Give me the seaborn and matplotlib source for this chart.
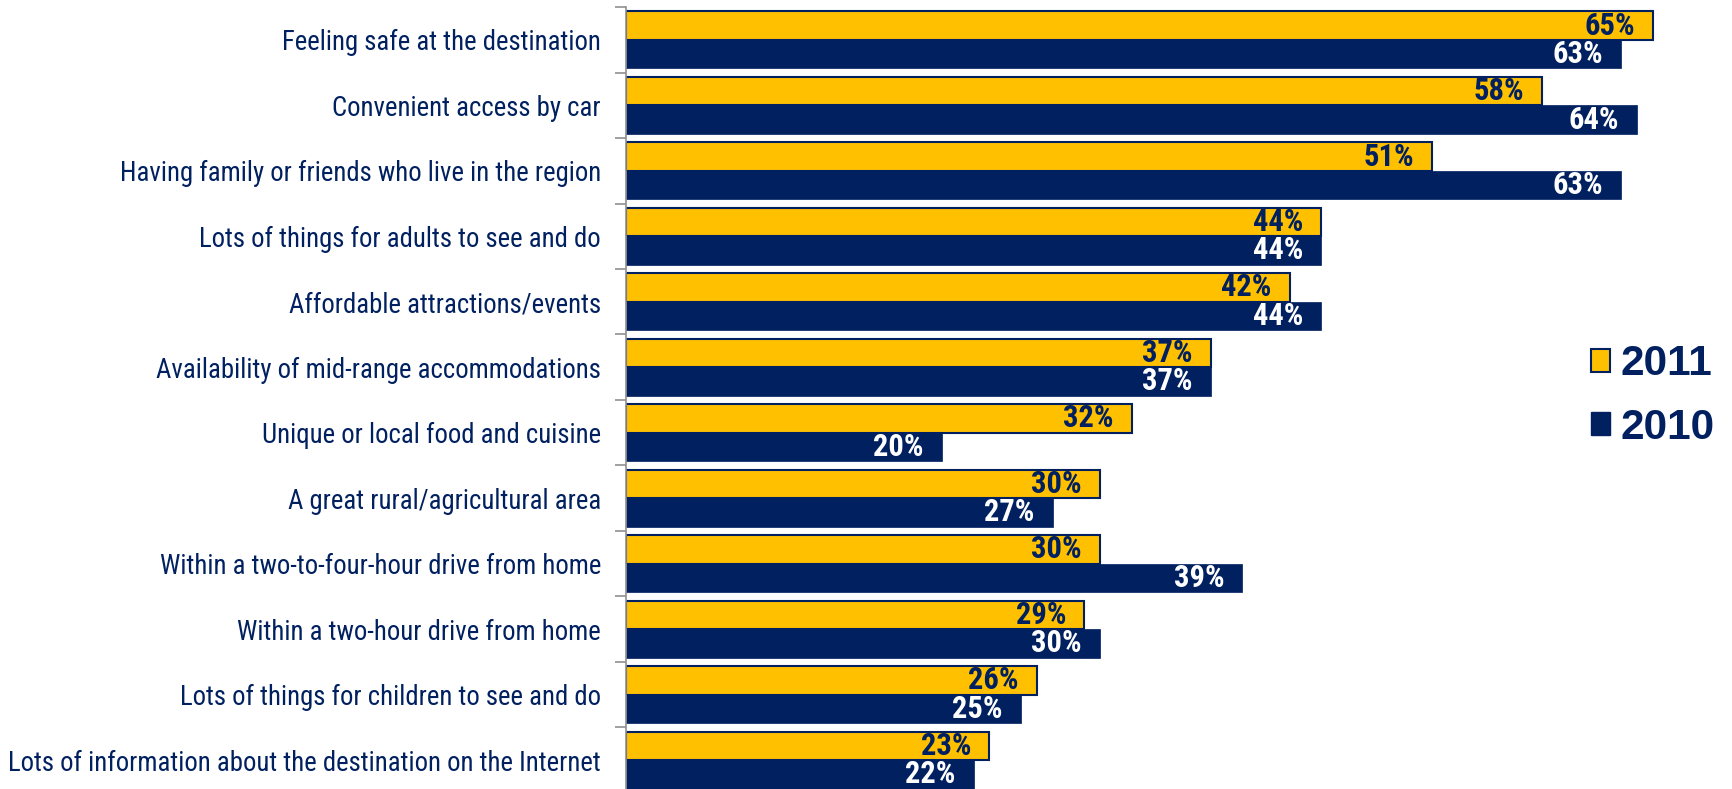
import matplotlib
matplotlib.use("Agg")
import matplotlib.pyplot as plt
import seaborn as sns
import pandas as pd
import numpy as np
from matplotlib.patches import Patch

categories = [
    "Feeling safe at the destination",
    "Convenient access by car",
    "Having family or friends who live in the region",
    "Lots of things for adults to see and do",
    "Affordable attractions/events",
    "Availability of mid-range accommodations",
    "Unique or local food and cuisine",
    "A great rural/agricultural area",
    "Within a two-to-four-hour drive from home",
    "Within a two-hour drive from home",
    "Lots of things for children to see and do",
    "Lots of information about the destination on the Internet",
]
values_2011 = [65, 58, 51, 44, 42, 37, 32, 30, 30, 29, 26, 23]
values_2010 = [63, 64, 63, 44, 44, 37, 20, 27, 39, 30, 25, 22]
years = ["2011", "2010"]

NAVY = "#002060"
GOLD = "#FFC000"

df = pd.DataFrame({
    "factor": categories * 2,
    "value": values_2011 + values_2010,
    "year": [years[0]] * len(categories) + [years[1]] * len(categories),
})

sns.set_theme(style="white")
plt.rcParams["font.family"] = ["Roboto Condensed", "Liberation Sans", "DejaVu Sans"]

fig = plt.figure(figsize=(17.32, 7.89), dpi=100)
ax = fig.add_axes([626 / 1732, -0.005, 1 - 626 / 1732, 0.9961])

sns.barplot(data=df, y="factor", x="value", hue="year", hue_order=years,
            order=categories, orient="h", palette=[GOLD, NAVY],
            width=0.87, gap=0, saturation=1, ax=ax, legend=False)

ax.set_xlim(0, 70)
ax.set_ylim(len(categories) - 0.5, -0.5)
ax.set_xlabel("")
ax.set_ylabel("")
ax.set_xticks([])

for s in ["top", "right", "bottom"]:
    ax.spines[s].set_visible(False)
ax.spines["left"].set_color("#909090")
ax.spines["left"].set_linewidth(1.2)

ax.set_yticks(np.arange(len(categories)))
ax.set_yticklabels(categories, fontsize=19.3, color=NAVY)
ax.tick_params(axis="y", which="major", length=0, pad=18)
ax.set_yticks(np.arange(-0.5, len(categories), 1.0), minor=True)
ax.tick_params(axis="y", which="minor", length=8, width=1.2, color="#909090",
               direction="out", left=True)

containers = ax.containers
for p in containers[0]:
    p.set_edgecolor(NAVY)
    p.set_linewidth(1.5)
for p in containers[1]:
    p.set_edgecolor(NAVY)
    p.set_linewidth(0.5)

for cont, col, vals in [(containers[0], NAVY, values_2011), (containers[1], "white", values_2010)]:
    texts = ax.bar_label(cont, labels=[f"{v}%" for v in vals], padding=-13,
                         color=col, fontsize=22, fontweight="bold")
    for t in texts:
        t.set_ha("right")

handles = [Patch(facecolor=GOLD, edgecolor=NAVY, linewidth=1.5, label="2011"),
           Patch(facecolor=NAVY, edgecolor=NAVY, label="2010")]
leg = fig.legend(handles=handles, loc="center left", bbox_to_anchor=(1591 / 1732, 1 - 396 / 789),
                 frameon=False, handlelength=0.45, handleheight=0.45, handletextpad=0.25,
                 labelspacing=0.55, borderpad=0, borderaxespad=0,
                 prop={"family": ["Liberation Sans", "DejaVu Sans"], "weight": "bold", "size": 30.5})
for t in leg.get_texts():
    t.set_color(NAVY)

fig.savefig("out.png", dpi=100)
